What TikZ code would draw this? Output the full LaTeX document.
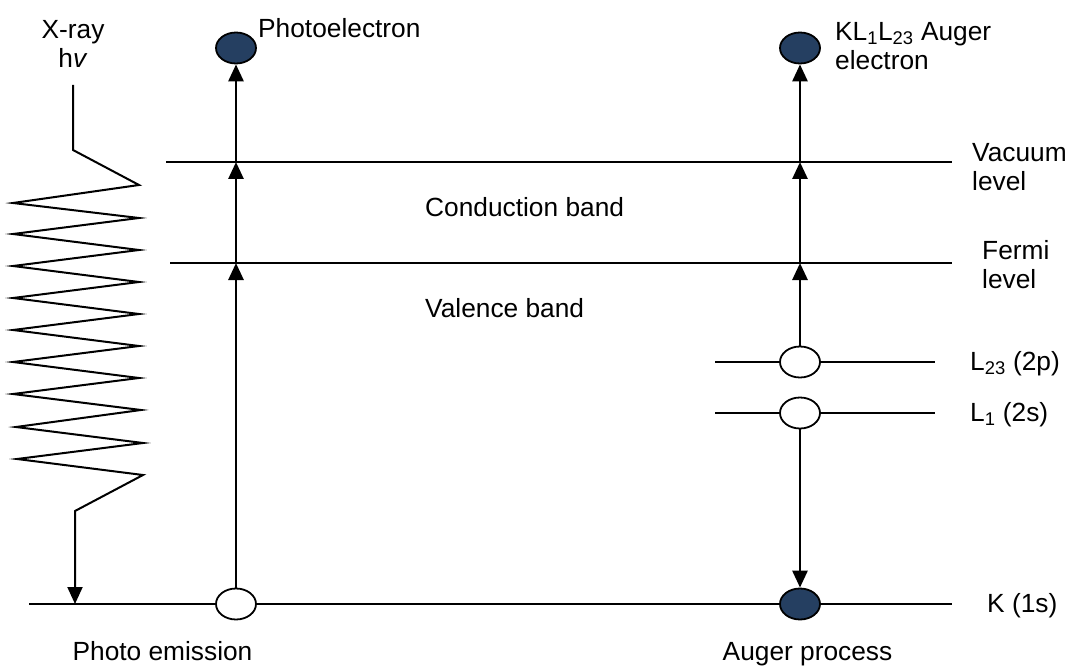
\documentclass[tikz,border=0pt]{standalone}
\usepackage{fontspec}
\setmainfont{Liberation Sans}
\usetikzlibrary{arrows.meta,shapes.geometric}
\definecolor{elecfill}{RGB}{37,63,97}
\begin{document}
\begin{tikzpicture}[x=1pt,y=-1pt,
  every node/.style={font=\fontsize{26.3}{29}\selectfont, inner sep=0pt},
  lev/.style={line width=1.8pt},
  tip/.style={-{Triangle[width=15pt,length=17pt]}},
  arr/.style={line width=2.8pt, tip},
  hole/.style={ellipse, draw, fill=white, line width=1.8pt, minimum width=40pt, minimum height=31pt},
  elec/.style={hole, fill=elecfill},
  lab/.style={anchor=base west},
  mlab/.style={anchor=north west, align=left}]
\useasboundingbox (0,0) rectangle (1072,666);

% level end points
\coordinate (vl) at (166,162); \coordinate (vr) at (952,162);
\coordinate (fl) at (170,263); \coordinate (fr) at (952,263);
\coordinate (l23l) at (715,362); \coordinate (l23r) at (935,362);
\coordinate (l1l) at (715,413); \coordinate (l1r) at (935,413);
\coordinate (kl) at (29,604); \coordinate (kr) at (952,604);
% crossing points
\coordinate (pf) at (236,263); \coordinate (pv) at (236,162);
\coordinate (af) at (800,263); \coordinate (av) at (800,162);
\coordinate (xs) at (73,85); \coordinate (xe) at (75,604);

% electrons / holes
\node[hole] (pk) at (236,604) {};
\node[elec] (pe) at (236,48) {};
\node[hole] (l23) at (800,362) {};
\node[hole] (l1) at (800,413) {};
\node[elec] (ak) at (800,604) {};
\node[elec] (ae) at (800,48) {};

% levels
\draw[lev] (vl) -- (vr);
\draw[lev] (fl) -- (fr);
\draw[lev] (l23l) -- (l23.west) (l23.east) -- (l23r);
\draw[lev] (l1l) -- (l1.west) (l1.east) -- (l1r);
\draw[lev] (kl) -- (pk.west) (pk.east) -- (ak.west) (ak.east) -- (kr);

% photoemission arrows
\draw[arr] (pk.north) -- (pf);
\draw[arr] (pf) -- (pv);
\draw[arr] (pv) -- (pe.south);
% Auger arrows
\draw[arr] (l23.north) -- (af);
\draw[arr] (af) -- (av);
\draw[arr] (av) -- (ae.south);
\draw[arr] (l1.south) -- (ak.north);

% X-ray zigzag
\draw[line width=2pt, line join=miter, tip]
  (xs) -- (73,150) -- (139,185) -- (13,203) -- (139,218) -- (13,234) -- (139,250)
  -- (13,266) -- (139,282) -- (13,298) -- (139,314) -- (13,330) -- (139,346)
  -- (13,362) -- (139,378) -- (13,394) -- (141,410) -- (16,427) -- (143,443)
  -- (17,459) -- (143,475) -- (75,511) -- (xe);

% labels
\node[anchor=north, align=center] (xray) at (73,20) {X-ray\\h\textit{v}};
\node[lab] (tpe) at (258,38) {Photoelectron};
\node[mlab] (tae) at (835,22) {KL\textsubscript{1}L\textsubscript{23} Auger\\electron};
\node[mlab] (tvac) at (972,143) {Vacuum\\level};
\node[mlab] (tfer) at (982,240) {Fermi\\level};
\node[lab] (tcb) at (425,217) {Conduction band};
\node[lab] (tvb) at (425,317) {Valence band};
\node[lab] (tl23) at (970,370) {L\textsubscript{23} (2p)};
\node[lab] (tl1) at (970,421) {L\textsubscript{1} (2s)};
\node[lab] (tk) at (987,612) {K (1s)};
\node[anchor=base] (tphe) at (162.5,660) {Photo emission};
\node[anchor=base] (tap) at (807.5,660) {Auger process};
\end{tikzpicture}
\end{document}
